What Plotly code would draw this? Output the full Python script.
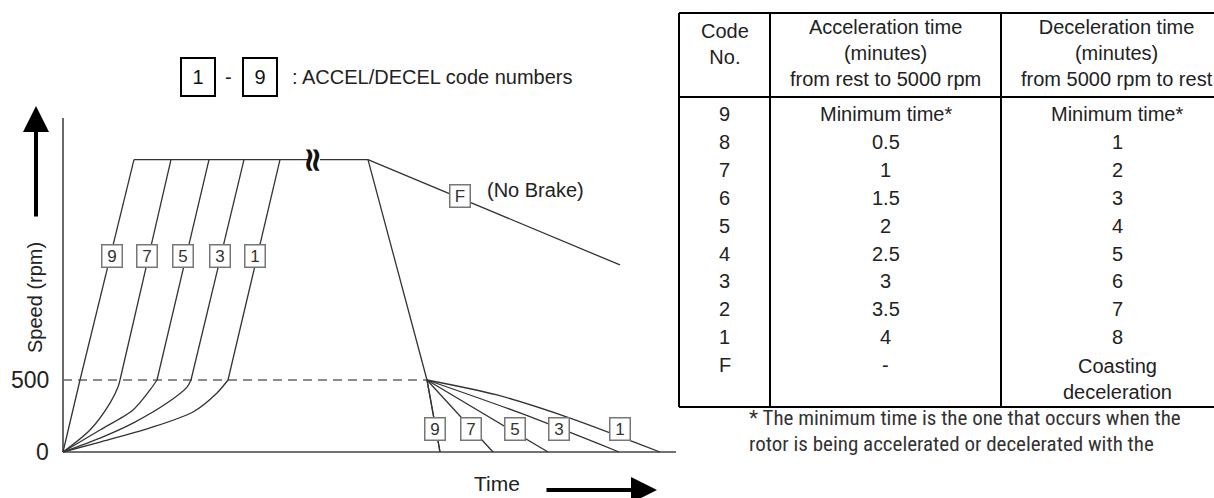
import plotly.graph_objects as go

W, H = 1214, 498
RPM_PER_PX = 500 / 72          # diagram is schematic: 72 px = 500 rpm
TOP_SPEED = 2030                # drawn height of the 5000 rpm plateau

# ---- acceleration curves (codes drawn: 9, 7, 5, 3, 1) ----
accel_codes = ["9", "7", "5", "3", "1"]
accel_curve_t = [[0, 17],
                 [0, 27, 47, 55, 57],
                 [0, 37, 70, 87, 94],
                 [0, 37, 70, 104, 124, 128],
                 [0, 37, 87, 130, 154, 165]]
accel_curve_s = [[0, 500],
                 [0, 153, 340, 451, 500],
                 [0, 153, 292, 431, 500],
                 [0, 97, 201, 340, 451, 500],
                 [0, 69, 167, 278, 410, 500]]
accel_top_t = [71, 108, 146, 181, 217]
plateau_break_t = [245, 257]    # gap for the time-axis break mark
plateau_end_t = 305

# ---- deceleration ----
decel_main_t = [305, 364, 377]
decel_main_s = [TOP_SPEED, 500, 0]
decel_codes = ["9", "7", "5", "3", "1"]
decel_curve_t = [[364, 377], [364, 430], [364, 485], [364, 457, 556], [364, 434, 507, 597]]
decel_curve_s = [[500, 0], [500, 0], [500, 0], [500, 271, 0], [500, 396, 236, 0]]
coast_t = [305, 557]
coast_s = [TOP_SPEED, 1299]

y_ticks = [0, 500]

# ---- table ----
codes = ["9", "8", "7", "6", "5", "4", "3", "2", "1", "F"]
accel_times = ["Minimum time*", "0.5", "1", "1.5", "2", "2.5", "3", "3.5", "4", "-"]
decel_times = ["Minimum time*", "1", "2", "3", "4", "5", "6", "7", "8", "Coasting<br>deceleration"]
headers = ["Code<br>No.",
           "Acceleration time<br>(minutes)<br>from rest to 5000 rpm",
           "Deceleration time<br>(minutes)<br>from 5000 rpm to rest"]
footnote = ["* The minimum time is the one that occurs when the",
            "rotor is being accelerated or decelerated with the"]

FONT = "Liberation Sans, Arial, sans-serif"
LINE = "#333333"


def px(x):
    return x / W


def py(y):
    return 1 - y / H


def t_of(x):
    return x - 63


def s_of(y):
    return (452 - y) * RPM_PER_PX


fig = go.Figure()

def add_line(t, s, color=LINE, width=1.3, dash=None, shape="linear"):
    fig.add_trace(go.Scatter(x=t, y=s, mode="lines", hoverinfo="skip",
                             line=dict(color=color, width=width, dash=dash, shape=shape,
                                       smoothing=0.8)))

# axes
add_line([0, 0], [s_of(118), 0], color="#444", width=1.6)
add_line([0, t_of(676)], [0, 0], color="#444", width=1.6)
# 500 rpm dashed
add_line([0, decel_main_t[1]], [500, 500], color="#666", width=1.6, dash="9px,6px")

for ct, cs, top in zip(accel_curve_t, accel_curve_s, accel_top_t):
    add_line(ct, cs, shape="spline")
    add_line([ct[-1], top], [500, TOP_SPEED])
add_line([accel_top_t[0], plateau_break_t[0]], [TOP_SPEED, TOP_SPEED])
add_line([plateau_break_t[1], plateau_end_t], [TOP_SPEED, TOP_SPEED])

add_line(decel_main_t, decel_main_s)
for ct, cs in zip(decel_curve_t, decel_curve_s):
    add_line(ct, cs, shape="spline")
add_line(coast_t, coast_s)

ann = []

def box(x, y, text, ref="data", size=17, bc="#777", bw=1.5, w=17, h=19, color="#333"):
    ann.append(dict(x=x, y=y, xref="x" if ref == "data" else "paper",
                    yref="y" if ref == "data" else "paper", text=text, showarrow=False,
                    xanchor="center", yanchor="middle",
                    bordercolor=bc, borderwidth=bw, borderpad=1, bgcolor="white",
                    width=w, height=h, font=dict(size=size, color=color, family=FONT)))

def label(x, y, text, size=20, xanchor="center", angle=0, color="#222", family=FONT):
    ann.append(dict(x=px(x), y=py(y), xref="paper", yref="paper", text=text, showarrow=False,
                    xanchor=xanchor, yanchor="middle", textangle=angle,
                    font=dict(size=size, color=color, family=family)))

# code boxes on the curves
accel_box_x = [112, 147, 183, 220, 255]
for code, x in zip(accel_codes, accel_box_x):
    box(t_of(x), s_of(256), code)
decel_box_x = [435, 471, 515, 559, 620]
for code, x in zip(decel_codes, decel_box_x):
    box(t_of(x), s_of(429), code)
box(t_of(460), s_of(196), "F")
label(485, 190, "(No Brake)", size=20, xanchor="left")

# break mark on the plateau
ann.append(dict(x=sum(plateau_break_t) / 2, y=TOP_SPEED, xref="x", yref="y",
                text="<b>≈</b>", showarrow=False, textangle=90,
                xanchor="center", yanchor="middle",
                font=dict(size=34, color="#111", family="DejaVu Sans, sans-serif")))

# tick labels
for v in y_ticks:
    ann.append(dict(x=-12, y=v, xref="x", yref="y", text=str(v), showarrow=False,
                    xanchor="right", yanchor="middle",
                    font=dict(size=23, color="#222", family=FONT)))

label(35, 298, "Speed (rpm)", size=20, angle=-90)
label(497, 483, "Time", size=21)

# arrows
ann.append(dict(x=px(36), y=py(106), ax=0, ay=112, xref="paper", yref="paper",
                text="", showarrow=True, arrowhead=2,
                arrowsize=1.3, arrowwidth=4, arrowcolor="black"))
ann.append(dict(x=px(657), y=py(490), ax=-112, ay=0, xref="paper", yref="paper",
                text="", showarrow=True, arrowhead=2,
                arrowsize=1.3, arrowwidth=4, arrowcolor="black"))

# legend of code numbers
box(px(198), py(77), "1", ref="paper", size=20, bc="black", bw=2, w=30, h=34, color="#111")
label(228, 77, "-", size=20)
box(px(260), py(77), "9", ref="paper", size=20, bc="black", bw=2, w=30, h=34, color="#111")
label(290, 77, ": ACCEL/DECEL code numbers", size=20, xanchor="left")

# table
shapes = []
tl, c1, c2, tr = 679, 770, 1001, 1233
top, hsep, bot = 13, 97, 407
for x0, y0, x1, y1 in [(tl, top, tr, top), (tl, hsep, tr, hsep), (tl, bot, tr, bot),
                       (tl, top, tl, bot), (c1, top, c1, bot), (c2, top, c2, bot),
                       (tr, top, tr, bot)]:
    shapes.append(dict(type="line", xref="paper", yref="paper", x0=px(x0), y0=py(y0),
                       x1=px(x1), y1=py(y1), line=dict(color="black", width=2)))

col_cx = [(tl + c1) / 2, (c1 + c2) / 2, (c2 + tr) / 2]
label(col_cx[0], 44, headers[0])
label(col_cx[1], 53, headers[1])
label(col_cx[2], 53, headers[2])
row_y0, row_dy = 114, 27.9
for i, (c, a, d) in enumerate(zip(codes, accel_times, decel_times)):
    y = row_y0 + i * row_dy
    label(col_cx[0], y, c)
    label(col_cx[1], y, a)
    if "<br>" in d:
        label(col_cx[2], y + row_dy / 2, d)
    else:
        label(col_cx[2], y, d)

NARROW = "Liberation Sans Narrow, Roboto Condensed, DejaVu Sans Condensed, sans-serif"
label(747, 418, footnote[0], size=21, xanchor="left", family=NARROW, color="#333")
label(747, 444, footnote[1], size=21, xanchor="left", family=NARROW, color="#333")

fig.update_layout(
    width=W, height=H, margin=dict(l=0, r=0, t=0, b=0),
    paper_bgcolor="white", plot_bgcolor="white", showlegend=False,
    xaxis=dict(range=[-63, W - 63], visible=False, fixedrange=True),
    yaxis=dict(range=[s_of(H), s_of(0)], visible=False, fixedrange=True),
    annotations=ann, shapes=shapes,
)

fig.write_html("out.html", config={"displayModeBar": False},
               post_script="document.body.style.margin='0';")
